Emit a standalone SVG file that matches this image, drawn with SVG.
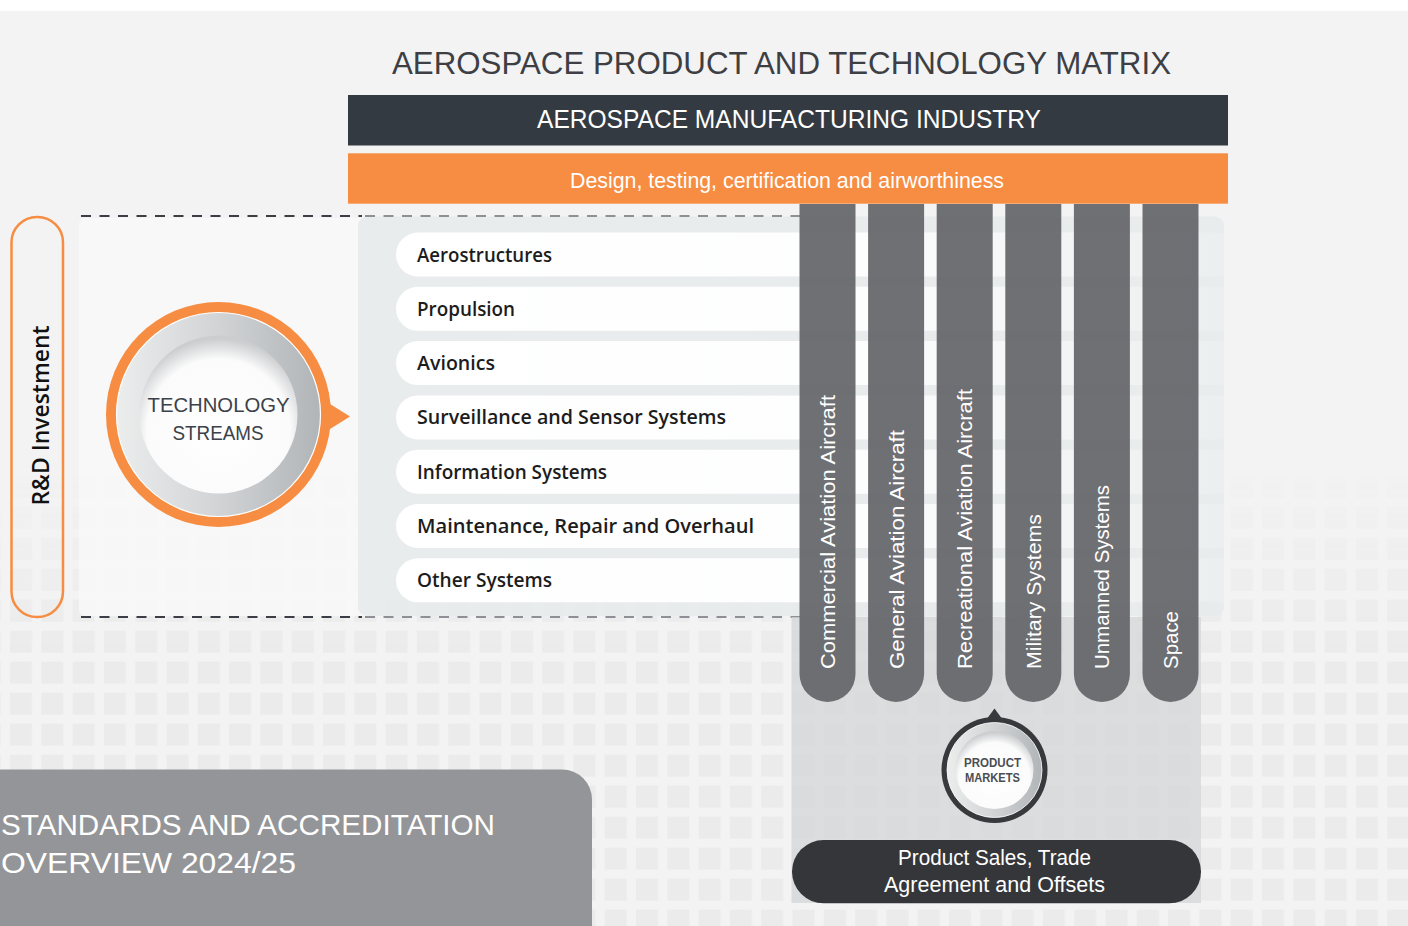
<svg xmlns="http://www.w3.org/2000/svg" width="1408" height="926" viewBox="0 0 1408 926">
<style>
.t{font-family:"Liberation Sans","DejaVu Sans",sans-serif}
.row{font-family:"Open Sans","Liberation Sans",sans-serif;font-weight:600;font-size:20px;fill:#1c1c1c}
.bar{fill:#66676b;opacity:0.94}
.blab{font-family:"Liberation Sans",sans-serif;font-size:21px;fill:#ffffff}
</style>
<defs>
<pattern id="grid" patternUnits="userSpaceOnUse" x="10" y="630.7" width="31.3" height="31">
<rect x="0" y="0" width="22" height="22" fill="#ebebeb"/>
</pattern>
<linearGradient id="fade" x1="0" y1="0" x2="0" y2="1" gradientUnits="objectBoundingBox">
<stop offset="0" stop-color="#fff" stop-opacity="0"/>
<stop offset="1" stop-color="#fff" stop-opacity="1"/>
</linearGradient>
<mask id="gm" maskUnits="userSpaceOnUse" x="0" y="0" width="1408" height="926">
<rect x="0" y="460" width="1408" height="190" fill="url(#fade)"/>
<rect x="0" y="649" width="1408" height="280" fill="#fff"/>
</mask>
<linearGradient id="rowg" x1="396" y1="0" x2="1224" y2="0" gradientUnits="userSpaceOnUse">
<stop offset="0" stop-color="#fff" stop-opacity="1"/>
<stop offset="0.55" stop-color="#fff" stop-opacity="0.92"/>
<stop offset="1" stop-color="#fff" stop-opacity="0.12"/>
</linearGradient>
<linearGradient id="ring" x1="0" y1="0" x2="1" y2="0">
<stop offset="0" stop-color="#eceded"/>
<stop offset="0.5" stop-color="#d1d3d5"/>
<stop offset="1" stop-color="#b1b5b8"/>
</linearGradient>
<radialGradient id="disc" cx="0.5" cy="0.6" r="0.58">
<stop offset="0" stop-color="#ffffff"/>
<stop offset="0.78" stop-color="#fbfbfb"/>
<stop offset="1" stop-color="#cbcdcf"/>
</radialGradient>
</defs>

<!-- background -->
<rect x="0" y="0" width="1408" height="926" fill="#ffffff"/>
<rect x="0" y="11" width="1408" height="915" fill="#f3f3f3"/>
<rect x="0" y="0" width="1408" height="926" fill="url(#grid)" mask="url(#gm)"/>

<!-- panels -->
<g id="panels">
<rect x="79" y="218" width="300" height="398" rx="6" fill="#f8f8f8" opacity="0.85"/>
<rect x="358" y="216.5" width="866" height="399.5" rx="9" fill="#e8ebec" opacity="0.95"/>
</g>

<!-- technology stream rows -->
<g id="rows">
<path d="M418 232.5H1224V276.5H418A22 22 0 0 1 418 232.5Z" fill="url(#rowg)"/>
<path d="M418 286.8H1224V330.8H418A22 22 0 0 1 418 286.8Z" fill="url(#rowg)"/>
<path d="M418 341.1H1224V385.1H418A22 22 0 0 1 418 341.1Z" fill="url(#rowg)"/>
<path d="M418 395.4H1224V439.4H418A22 22 0 0 1 418 395.4Z" fill="url(#rowg)"/>
<path d="M418 449.7H1224V493.7H418A22 22 0 0 1 418 449.7Z" fill="url(#rowg)"/>
<path d="M418 504H1224V548H418A22 22 0 0 1 418 504Z" fill="url(#rowg)"/>
<path d="M418 558.3H1224V602.3H418A22 22 0 0 1 418 558.3Z" fill="url(#rowg)"/>
<text class="row" x="417" y="261.5" textLength="135" lengthAdjust="spacingAndGlyphs">Aerostructures</text>
<text class="row" x="417" y="315.8" textLength="98" lengthAdjust="spacingAndGlyphs">Propulsion</text>
<text class="row" x="417" y="370.1" textLength="78" lengthAdjust="spacingAndGlyphs">Avionics</text>
<text class="row" x="417" y="424.4" textLength="309" lengthAdjust="spacingAndGlyphs">Surveillance and Sensor Systems</text>
<text class="row" x="417" y="478.7" textLength="190" lengthAdjust="spacingAndGlyphs">Information Systems</text>
<text class="row" x="417" y="533" textLength="337" lengthAdjust="spacingAndGlyphs">Maintenance, Repair and Overhaul</text>
<text class="row" x="417" y="587.3" textLength="135" lengthAdjust="spacingAndGlyphs">Other Systems</text>
</g>

<!-- dashed boundary lines -->
<g id="connectors" fill="none" stroke-width="2" stroke-dasharray="10 8.5">
<line x1="81" y1="216" x2="362" y2="216" stroke="#3b3f45"/>
<line x1="365" y1="216" x2="800" y2="216" stroke="#8d9094"/>
<line x1="81" y1="617" x2="362" y2="617" stroke="#3b3f45"/>
<line x1="365" y1="617" x2="800" y2="617" stroke="#8d9094"/>
</g>

<!-- product markets panel -->
<rect id="market-panel" x="791.5" y="617" width="409.5" height="286" fill="#d4d5d8" opacity="0.75"/>

<!-- vertical product bars -->
<g id="bar-commercial">
<path class="bar" d="M799.5 204h56V674a28 28 0 0 1 -56 0Z"/>
<text class="blab" transform="translate(835,669) rotate(-90)" textLength="274" lengthAdjust="spacingAndGlyphs">Commercial Aviation Aircraft</text>
</g>
<g id="bar-general">
<path class="bar" d="M868.1 204h56V674a28 28 0 0 1 -56 0Z"/>
<text class="blab" transform="translate(903.6,669) rotate(-90)" textLength="239" lengthAdjust="spacingAndGlyphs">General Aviation Aircraft</text>
</g>
<g id="bar-recreational">
<path class="bar" d="M936.7 204h56V674a28 28 0 0 1 -56 0Z"/>
<text class="blab" transform="translate(972.2,669) rotate(-90)" textLength="280" lengthAdjust="spacingAndGlyphs">Recreational Aviation Aircraft</text>
</g>
<g id="bar-military">
<path class="bar" d="M1005.3 204h56V674a28 28 0 0 1 -56 0Z"/>
<text class="blab" transform="translate(1040.8,669) rotate(-90)" textLength="155" lengthAdjust="spacingAndGlyphs">Military Systems</text>
</g>
<g id="bar-unmanned">
<path class="bar" d="M1073.9 204h56V674a28 28 0 0 1 -56 0Z"/>
<text class="blab" transform="translate(1109.4,669) rotate(-90)" textLength="184" lengthAdjust="spacingAndGlyphs">Unmanned Systems</text>
</g>
<g id="bar-space">
<path class="bar" d="M1142.5 204h56V674a28 28 0 0 1 -56 0Z"/>
<text class="blab" transform="translate(1178,669) rotate(-90)" textLength="58" lengthAdjust="spacingAndGlyphs">Space</text>
</g>

<!-- title and headers -->
<g id="title">
<text class="t" x="392" y="73.5" font-size="31" fill="#3d3f44" textLength="779" lengthAdjust="spacingAndGlyphs">AEROSPACE PRODUCT AND TECHNOLOGY MATRIX</text>
</g>
<g id="industry">
<rect x="348" y="95" width="880" height="50.5" fill="#343a41"/>
<text class="t" x="537" y="128" font-size="25" fill="#ffffff" textLength="504" lengthAdjust="spacingAndGlyphs">AEROSPACE MANUFACTURING INDUSTRY</text>
</g>
<g id="design">
<rect x="348" y="153.3" width="880" height="50.4" fill="#f68d42"/>
<text class="t" x="570" y="188" font-size="21.5" fill="#ffffff" textLength="434" lengthAdjust="spacingAndGlyphs">Design, testing, certification and airworthiness</text>
</g>

<!-- R&D investment -->
<g id="rd-investment">
<rect x="11.5" y="217" width="51.5" height="400" rx="25.5" fill="none" stroke="#f68d42" stroke-width="2.5"/>
<text transform="translate(48.5,505.5) rotate(-90)" font-family="Open Sans, Liberation Sans, sans-serif" font-weight="600" font-size="24" fill="#111111" textLength="180" lengthAdjust="spacingAndGlyphs">R&amp;D Investment</text>
</g>

<!-- technology streams circle -->
<g id="technology-streams">
<path d="M326 401.5L350 416.5L326 431.5Z" fill="#f68d42"/>
<circle cx="218.5" cy="414.5" r="112.5" fill="#f68d42"/>
<circle cx="218.5" cy="414.5" r="102" fill="url(#ring)" stroke="#ffffff" stroke-width="1.2"/>
<circle cx="218.5" cy="414.5" r="79" fill="url(#disc)"/>
<text class="t" x="218.5" y="412.3" font-size="21" fill="#3b4249" text-anchor="middle" textLength="142" lengthAdjust="spacingAndGlyphs">TECHNOLOGY</text>
<text class="t" x="218" y="440" font-size="21" fill="#3b4249" text-anchor="middle" textLength="91" lengthAdjust="spacingAndGlyphs">STREAMS</text>
</g>

<!-- product markets circle -->
<g id="product-markets">
<path d="M987.5 718L994.5 708.5L1001.5 718Z" fill="#38393d"/>
<circle cx="994.5" cy="770" r="53" fill="#38393d"/>
<circle cx="994.5" cy="770" r="47.5" fill="url(#ring)" stroke="#ffffff" stroke-width="0.8"/>
<circle cx="994.5" cy="770" r="39" fill="url(#disc)"/>
<text class="t" x="992.5" y="766.5" font-size="13" font-weight="bold" fill="#4a4e53" text-anchor="middle" textLength="57" lengthAdjust="spacingAndGlyphs">PRODUCT</text>
<text class="t" x="992.5" y="782.3" font-size="13" font-weight="bold" fill="#4a4e53" text-anchor="middle" textLength="55" lengthAdjust="spacingAndGlyphs">MARKETS</text>
</g>

<!-- product sales pill -->
<g id="product-sales">
<rect x="792" y="840" width="409" height="63.3" rx="31.6" fill="#35363a"/>
<text class="t" x="994.5" y="865" font-size="22" fill="#ffffff" text-anchor="middle" textLength="193" lengthAdjust="spacingAndGlyphs">Product Sales, Trade</text>
<text class="t" x="994.5" y="891.7" font-size="22" fill="#ffffff" text-anchor="middle" textLength="221" lengthAdjust="spacingAndGlyphs">Agreement and Offsets</text>
</g>

<!-- standards box -->
<g id="standards">
<path d="M-10 769.5H562A30 30 0 0 1 592 799.5V936H-10Z" fill="#949598"/>
<text class="t" x="1" y="835" font-size="30" fill="#ffffff" textLength="494" lengthAdjust="spacingAndGlyphs">STANDARDS AND ACCREDITATION</text>
<text class="t" x="1" y="873.3" font-size="30" fill="#ffffff" textLength="295" lengthAdjust="spacingAndGlyphs">OVERVIEW 2024/25</text>
</g>
</svg>
